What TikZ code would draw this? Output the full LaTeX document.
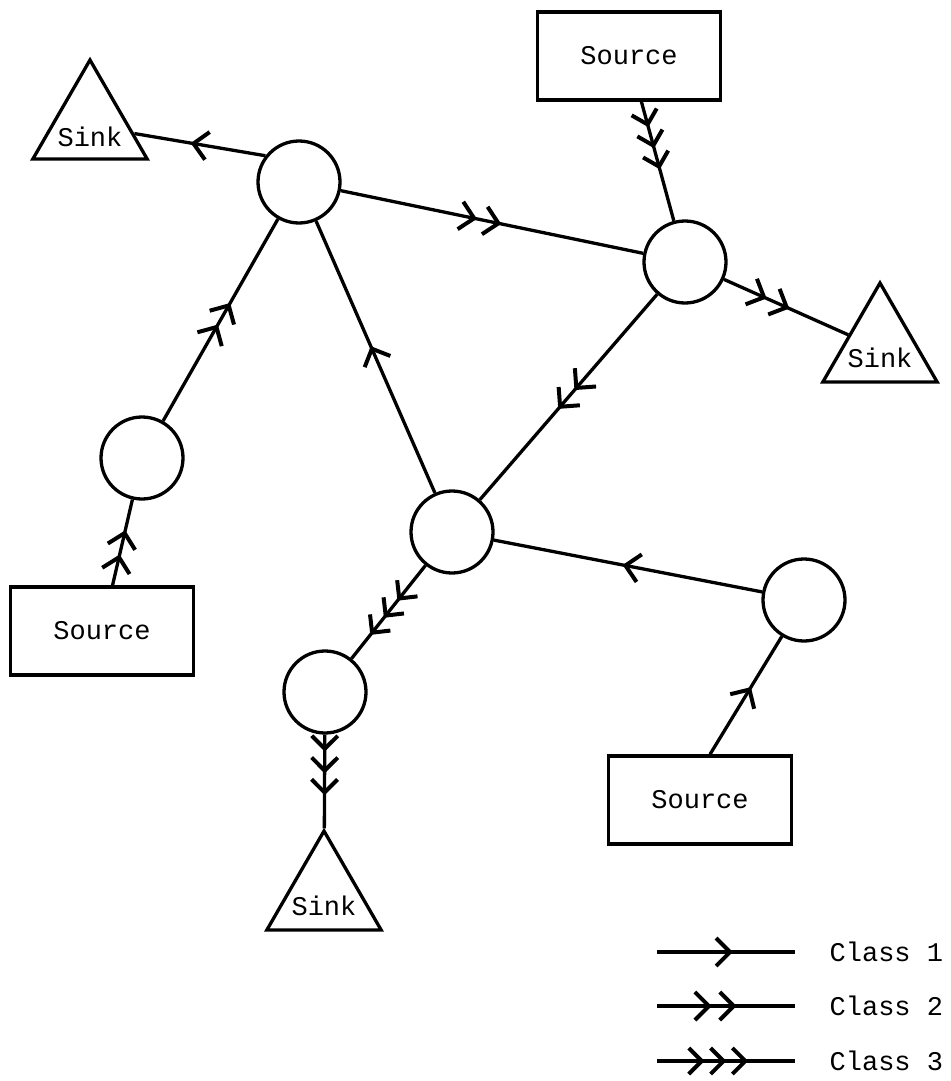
\documentclass[tikz,border=0pt]{standalone}
\usepackage{fontspec}
\setmonofont{Liberation Mono}
\usetikzlibrary{arrows.meta,decorations.markings,shapes.geometric}

\begin{document}
\begin{tikzpicture}[x=1pt,y=-1pt,line width=3.3pt,
  hub/.style={circle,draw,minimum size=82pt,inner sep=0pt},
  txt/.style={font=\ttfamily\fontsize{27}{32}\selectfont},
  srcbox/.style={rectangle,draw,txt,minimum width=183pt,minimum height=88pt,inner sep=0pt},
  sinktri/.style={regular polygon,regular polygon sides=3,draw,minimum size=132pt,inner sep=0pt},
  lbl/.style={txt,inner sep=0pt},
  cls1/.style={postaction={decorate,decoration={markings,mark=at position #1 with
     {\arrow{Straight Barb[length=14pt,width=28pt,line width=4pt]}}}}},
  cls2/.style={postaction={decorate,decoration={markings,mark=at position #1 with
     {\arrow{Straight Barb[length=14pt,width=28pt,line width=4pt,sep=6pt] Straight Barb[length=14pt,width=28pt,line width=4pt,sep=6pt]}}}}},
  cls3/.style={postaction={decorate,decoration={markings,mark=at position #1 with
     {\arrow{Straight Barb[length=13pt,width=26pt,line width=4pt,sep=4pt] Straight Barb[length=13pt,width=26pt,line width=4pt,sep=4pt] Straight Barb[length=13pt,width=26pt,line width=4pt,sep=4pt]}}}}},
]
\useasboundingbox (0,0) rectangle (950,1081);

% switching nodes
\node[hub] (A) at (299,182) {};
\node[hub] (B) at (685,262) {};
\node[hub] (C) at (142,458) {};
\node[hub] (D) at (452,532) {};
\node[hub] (E) at (325,692) {};
\node[hub] (F) at (804,600) {};

% sources
\node[srcbox] (st) at (629,56) {Source};
\node[srcbox] (sl) at (102,631) {Source};
\node[srcbox] (sb) at (700,800) {Source};

% sinks
\node[sinktri] (k1) at (90,126) {};
\node[sinktri] (k2) at (880,349) {};
\node[sinktri] (k3) at (324,897) {};
\node[lbl] (k1t) at ([yshift=-11pt]k1.center) {Sink};
\node[lbl] (k2t) at ([yshift=-9pt]k2.center) {Sink};
\node[lbl] (k3t) at ([yshift=-9pt]k3.center) {Sink};

% flows
\draw[cls1=0.57] (A.142) -- (k1);
\draw[cls2=0.55] (A) -- (B);
\draw[cls3=0.60] (st) -- (B);
\draw[cls2=0.57] (B) -- (k2);
\draw[cls2=0.58] (B) -- (D);
\draw[cls1=0.54] (D) -- (A);
\draw[cls2=0.61] (C) -- (A);
\draw[cls2=0.71] (sl) -- (C);
\draw[cls1=0.52] (F) -- (D);
\draw[cls1=0.57] ([xshift=10pt]sb.north) -- (F);
\draw[cls3=0.78] (D) -- (E);
\draw[cls3=0.69] (E) -- (k3);

% legend
\coordinate (l1a) at (657,952);  \coordinate (l1b) at (795,952);
\coordinate (l2a) at (657,1006); \coordinate (l2b) at (795,1006);
\coordinate (l3a) at (657,1061); \coordinate (l3b) at (795,1061);
\draw[cls1=0.55] (l1a) -- (l1b);
\draw[cls2=0.62] (l2a) -- (l2b);
\draw[cls3=0.69] (l3a) -- (l3b);
\node[lbl,anchor=west] (c1) at (828,952) {Class 1};
\node[lbl,anchor=west] (c2) at (828,1006) {Class 2};
\node[lbl,anchor=west] (c3) at (828,1061) {Class 3};
\end{tikzpicture}
\end{document}
